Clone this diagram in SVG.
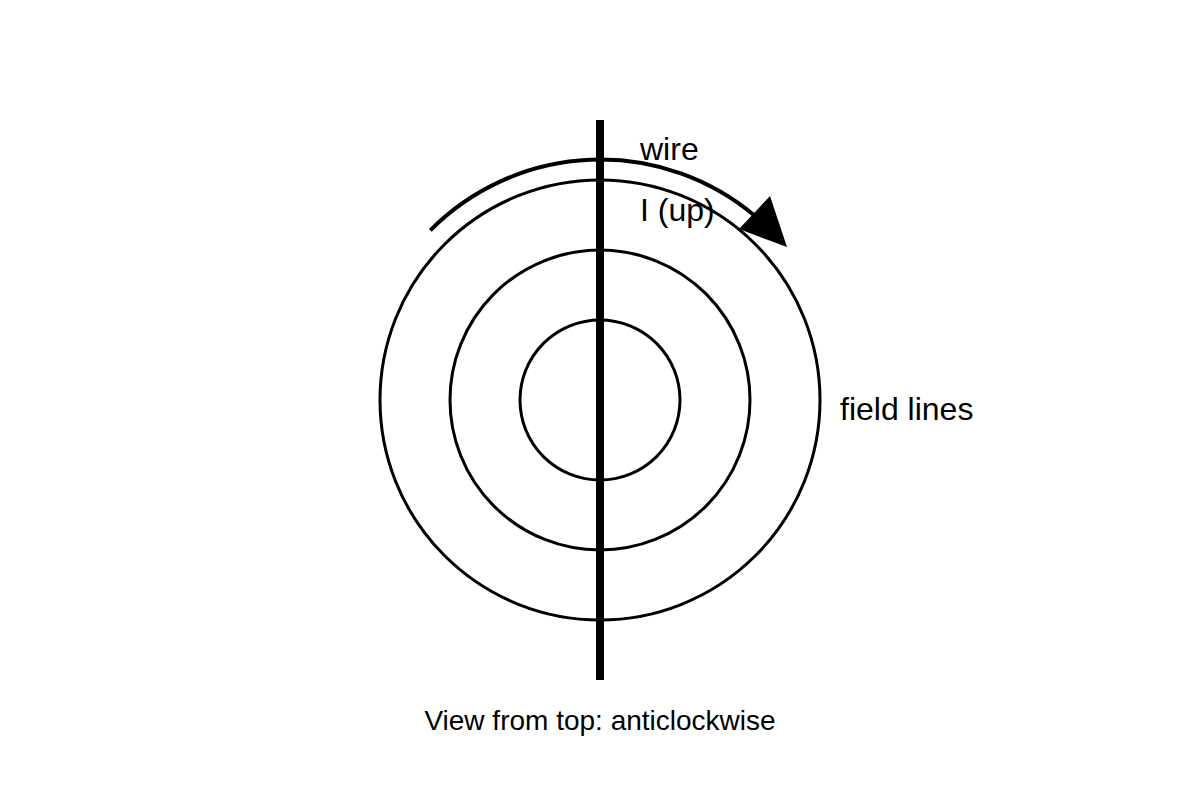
<svg xmlns="http://www.w3.org/2000/svg" width="1200" height="800" viewBox="0 0 1200 800">
<style>
.fl{fill:none;stroke:#000;stroke-width:3}
.t{font-family:"Liberation Sans",Arial,sans-serif;fill:#000}
</style>
<rect width="1200" height="800" fill="#fff"/>
<g id="field-lines">
<circle class="fl" cx="600" cy="400" r="220"/>
<circle class="fl" cx="600" cy="400" r="150"/>
<circle class="fl" cx="600" cy="400" r="80"/>
</g>
<g id="wire">
<rect x="596" y="120" width="8" height="560" fill="#000"/>
</g>
<g id="connectors">
<path d="M 430.3 230.3 A 240 240 0 0 1 755 216" fill="none" stroke="#000" stroke-width="4"/>
<polygon points="739,229 770,196 787,247" fill="#000"/>
</g>
<g id="labels">
<text class="t" x="640" y="160" font-size="32">wire</text>
<text class="t" x="640" y="221" font-size="32">I (up)</text>
<text class="t" x="840" y="420" font-size="32">field lines</text>
<text class="t" x="600" y="730" font-size="28" text-anchor="middle">View from top: anticlockwise</text>
</g>
</svg>
